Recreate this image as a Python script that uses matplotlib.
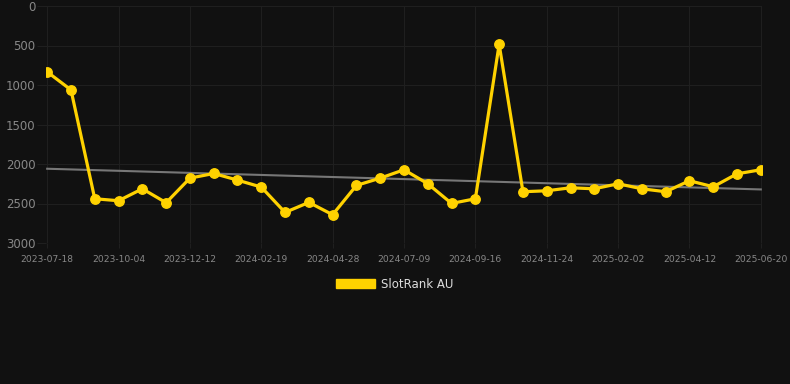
import numpy as np
import matplotlib.pyplot as plt
import matplotlib.patches as mpatches

# SlotRank AU rank values (lower = better)
ranks = [834, 1062, 2440, 2465, 2314, 2490, 2179, 2120, 2204, 2292,
         2613, 2486, 2642, 2271, 2179, 2073, 2250, 2499, 2440, 485,
         2351, 2339, 2301, 2314, 2250, 2314, 2351, 2212, 2288, 2124, 2073]
tick_labels = ['2023-07-18', '2023-10-04', '2023-12-12', '2024-02-19', '2024-04-28',
               '2024-07-09', '2024-09-16', '2024-11-24', '2025-02-02', '2025-04-12',
               '2025-06-20']
trend_ends = [2060, 2322]

bg = '#111111'
gold = '#FFD200'
grid_c = '#1f1f1f'

fig = plt.figure(figsize=(7.9, 3.84), dpi=100, facecolor=bg)
ax = fig.add_axes([46 / 790, 1 - 243 / 384, (762 - 46) / 790, (243 - 6) / 384])
ax.set_facecolor(bg)

x = np.arange(len(ranks))
ax.plot([x[0], x[-1]], trend_ends, color='#777777', lw=1.5, zorder=2)
ax.plot(x, ranks, color=gold, lw=2.3, marker='o', markersize=6.8, zorder=3)

ax.set_ylim(3000, 0)
ax.set_xlim(-0.05, len(ranks) - 1 + 0.05)
ax.set_yticks([0, 500, 1000, 1500, 2000, 2500, 3000])
ax.set_xticks(x[::3])
ax.set_xticklabels(tick_labels)
ax.grid(True, color=grid_c, lw=0.8)
for s in ax.spines.values():
    s.set_visible(False)
ax.tick_params(axis='x', colors=grid_c, labelcolor='#888888', labelsize=6.6,
               length=3.5, width=0.8, pad=5)
ax.tick_params(axis='y', colors=grid_c, labelcolor='#888888', labelsize=8.5,
               length=6.5, width=0.8, pad=1)

fig.legend(handles=[mpatches.Patch(color=gold, label='SlotRank AU')], loc='center',
           bbox_to_anchor=(0.5, 1 - 284 / 384), frameon=False, handlelength=3.3,
           handleheight=0.9, handletextpad=0.5, fontsize=8.5, labelcolor='#dddddd')

fig.savefig('out.png', dpi=100, facecolor=bg)
